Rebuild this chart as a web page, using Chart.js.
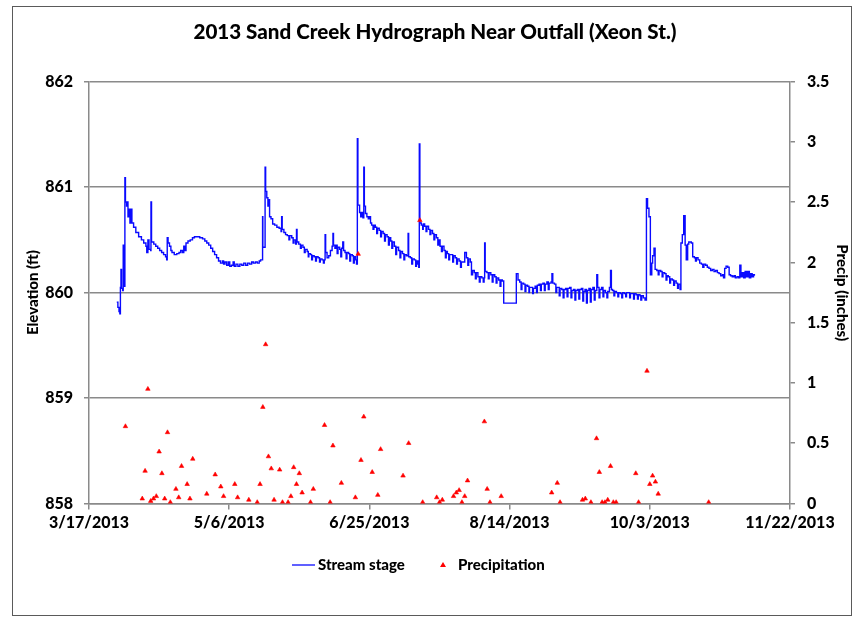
<!DOCTYPE html>
<html>
<head>
<meta charset="utf-8">
<title>2013 Sand Creek Hydrograph Near Outfall (Xeon St.)</title>
<script src="https://cdn.jsdelivr.net/npm/chart.js@4.4.1/dist/chart.umd.min.js"></script>
<style>
  html, body { margin: 0; padding: 0; background: #ffffff; }
  canvas { display: block; }
</style>
</head>
<body>
<canvas id="hydro" width="855" height="618" style="width:855px;height:618px"></canvas>
<script>
// Day 0 of the date axis is 3/17/2013; x values are days after that date.
const startDate = Date.UTC(2013, 2, 17);

// Axis tick values
const dateTicks = [0, 50, 100, 150, 200, 250];
const elevationTicks = [858, 859, 860, 861, 862];
const precipTicks = [0, 0.5, 1, 1.5, 2, 2.5, 3, 3.5];

// Stream stage: [day, elevation ft]; each reading holds until the next one
const stageReadings = [
  [9.9,859.91],[10.3,859.86],[10.7,859.82],[11.0,859.80],[11.2,860.05],[11.4,860.22],[11.6,860.04],[12.0,860.02],
  [12.2,860.45],[12.4,860.15],[12.6,860.06],[12.8,861.09],[13.0,860.86],[13.4,860.82],[13.7,860.86],[13.9,860.72],
  [14.2,860.79],[14.6,860.66],[15.0,860.79],[15.3,860.66],[15.9,860.62],[16.7,860.57],[17.7,860.53],[18.7,860.50],
  [19.5,860.47],[20.3,860.44],[20.6,860.38],[21.0,860.50],[21.4,860.41],[22.0,860.40],[22.1,860.86],[22.3,860.48],
  [23.1,860.46],[23.8,860.44],[24.5,860.42],[25.2,860.40],[25.9,860.38],[26.6,860.36],[27.3,860.34],[27.7,860.31],
  [27.9,860.52],[28.2,860.47],[28.7,860.44],[29.2,860.40],[29.6,860.38],[30.4,860.36],[31.3,860.37],[32.1,860.38],
  [32.7,860.40],[33.3,860.38],[33.8,860.44],[34.2,860.40],[34.6,860.47],[35.3,860.49],[36.1,860.50],[36.9,860.52],
  [37.6,860.53],[39.5,860.52],[40.5,860.51],[41.3,860.49],[42.0,860.47],[42.7,860.45],[43.4,860.42],[44.1,860.39],
  [44.8,860.36],[45.5,860.33],[46.2,860.30],[46.9,860.28],[47.6,860.30],[48.0,860.27],[48.5,860.29],[49.1,860.26],
  [49.7,860.29],[50.2,860.25],[50.8,860.26],[51.4,860.29],[51.8,860.25],[52.4,860.27],[53.1,860.25],[53.8,860.27],
  [54.5,860.26],[55.2,860.28],[55.9,860.26],[56.6,860.28],[57.3,860.27],[58.0,860.29],[58.6,860.28],[59.3,860.29],
  [60.0,860.28],[60.7,860.30],[61.2,860.31],[61.9,860.72],[62.0,860.43],[62.8,861.19],[63.0,860.96],[63.4,860.90],
  [63.8,860.82],[64.0,860.88],[64.4,860.72],[64.9,860.70],[65.5,860.65],[66.2,860.64],[67.0,860.62],[67.8,860.61],
  [68.5,860.58],[68.7,860.72],[68.9,860.60],[69.5,860.57],[70.1,860.55],[70.7,860.54],[71.3,860.50],[71.6,860.54],
  [72.3,860.52],[72.8,860.47],[73.1,860.50],[73.7,860.46],[74.0,860.60],[74.2,860.48],[74.8,860.46],[75.4,860.42],
  [75.7,860.45],[76.3,860.43],[76.8,860.38],[77.1,860.41],[77.8,860.39],[78.2,860.34],[78.4,860.37],[79.0,860.36],
  [79.4,860.31],[79.7,860.35],[80.3,860.34],[80.8,860.30],[81.1,860.34],[81.7,860.33],[82.2,860.29],[82.5,860.32],
  [83.1,860.31],[83.6,860.28],[83.9,860.31],[84.2,860.55],[84.4,860.38],[84.9,860.33],[85.5,860.35],[86.1,860.40],
  [86.7,860.44],[87.0,860.56],[87.2,860.45],[87.7,860.42],[88.2,860.45],[88.5,860.37],[88.8,860.43],[89.4,860.41],
  [89.8,860.34],[90.1,860.42],[90.5,860.48],[90.8,860.40],[91.3,860.38],[91.7,860.32],[92.0,860.38],[92.6,860.37],
  [93.0,860.30],[93.3,860.36],[93.9,860.35],[94.3,860.28],[94.6,860.34],[95.1,860.31],[95.4,860.27],[95.7,861.46],
  [95.9,860.83],[96.5,860.76],[96.9,860.72],[97.4,860.76],[97.7,860.71],[98.0,861.19],[98.2,860.82],[98.6,860.75],
  [99.1,860.72],[99.6,860.70],[100.0,860.72],[100.4,860.66],[100.8,860.64],[101.3,860.60],[101.6,860.64],[102.1,860.62],
  [102.6,860.56],[102.9,860.61],[103.5,860.59],[104.0,860.53],[104.3,860.58],[104.9,860.56],[105.4,860.49],[105.7,860.55],
  [106.3,860.53],[106.8,860.45],[107.1,860.52],[107.6,860.49],[108.0,860.42],[108.3,860.48],[108.9,860.44],[109.4,860.36],
  [109.7,860.43],[110.4,860.40],[110.9,860.33],[111.2,860.39],[111.8,860.37],[112.3,860.31],[112.6,860.36],[113.2,860.35],
  [113.8,860.56],[114.0,860.34],[114.6,860.33],[115.1,860.27],[115.4,860.32],[116.0,860.31],[116.5,860.25],[116.8,860.30],
  [117.3,860.27],[117.6,860.24],[117.8,861.41],[118.0,860.66],[118.5,860.64],[119.0,860.60],[119.2,860.65],[119.7,860.63],
  [120.2,860.58],[120.5,860.63],[121.1,860.60],[121.6,860.55],[121.9,860.59],[122.5,860.56],[123.0,860.50],[123.3,860.55],
  [123.9,860.52],[124.4,860.45],[124.7,860.50],[125.2,860.44],[125.7,860.39],[126.0,860.44],[126.6,860.40],[127.1,860.33],
  [127.4,860.39],[127.8,860.37],[128.3,860.31],[128.6,860.36],[129.2,860.36],[129.7,860.29],[130.0,860.35],[130.6,860.33],
  [131.1,860.27],[131.4,860.32],[132.0,860.30],[132.5,860.24],[132.8,860.29],[133.4,860.29],[134.0,860.38],[134.6,860.33],
  [135.1,860.26],[135.4,860.32],[136.0,860.29],[136.4,860.17],[136.8,860.21],[137.4,860.19],[137.8,860.13],[138.1,860.19],
  [138.7,860.15],[139.2,860.10],[139.5,860.15],[140.1,860.14],[140.6,860.10],[140.9,860.14],[141.1,860.47],[141.3,860.20],
  [141.9,860.19],[142.4,860.13],[142.7,860.19],[143.3,860.17],[143.8,860.10],[144.1,860.17],[144.7,860.15],[145.2,860.09],
  [145.5,860.14],[146.1,860.12],[146.6,860.06],[146.9,860.12],[147.4,860.11],[147.9,859.90],[152.4,860.18],[153.0,860.12],
  [153.6,860.10],[154.1,860.03],[154.4,860.09],[155.0,860.08],[155.5,860.01],[155.8,860.07],[156.4,860.06],[156.9,860.00],
  [157.1,860.05],[157.7,860.05],[158.2,859.99],[158.5,860.04],[159.1,860.06],[159.6,860.00],[159.9,860.07],[160.5,860.08],
  [161.0,860.02],[161.3,860.08],[161.9,860.09],[162.4,860.02],[162.7,860.08],[163.3,860.10],[163.8,860.03],[164.1,860.09],
  [164.8,860.10],[165.1,860.18],[165.4,860.09],[166.0,860.08],[166.5,860.00],[166.8,860.05],[167.2,860.05],[167.7,859.97],
  [168.0,860.04],[168.6,860.03],[169.1,859.95],[169.4,860.03],[170.0,860.04],[170.5,859.96],[170.8,860.04],[171.4,860.05],
  [171.9,859.95],[172.2,860.02],[172.8,860.03],[173.3,859.93],[173.6,860.02],[174.2,860.03],[174.7,859.94],[175.0,860.03],
  [175.6,860.04],[176.1,859.92],[176.4,860.01],[176.9,860.03],[177.4,859.90],[177.7,860.02],[178.3,860.04],[178.8,859.91],
  [179.1,860.03],[179.7,860.05],[180.2,859.93],[180.5,860.02],[181.1,860.17],[181.4,860.05],[181.9,859.95],[182.2,860.03],
  [182.8,860.05],[183.3,859.96],[183.6,860.02],[184.2,860.00],[184.7,859.95],[185.0,860.01],[185.6,860.05],[186.0,860.21],
  [186.3,860.03],[186.7,860.02],[187.2,859.97],[187.5,860.01],[188.1,860.00],[188.6,859.96],[188.9,860.00],[189.5,859.99],
  [190.0,859.95],[190.3,860.00],[190.9,859.99],[191.4,859.96],[191.7,860.00],[192.3,860.00],[192.8,859.95],[193.1,859.99],
  [193.7,859.99],[194.2,859.94],[194.5,859.99],[195.1,859.98],[195.6,859.94],[195.9,859.98],[196.5,859.97],[196.8,859.93],
  [197.1,859.97],[197.7,859.95],[198.3,859.93],[198.8,860.89],[199.2,860.80],[199.7,860.72],[200.2,860.17],[200.7,860.28],
  [201.0,860.35],[201.5,860.42],[201.9,860.22],[202.5,860.21],[203.0,860.17],[203.3,860.21],[203.9,860.20],[204.4,860.15],
  [204.7,860.19],[205.3,860.18],[205.8,860.12],[206.1,860.16],[206.6,860.15],[207.1,860.09],[207.4,860.13],[208.0,860.12],
  [208.5,860.07],[208.8,860.11],[209.4,860.09],[209.9,860.04],[210.2,860.08],[210.8,860.03],[211.1,860.47],[211.6,860.55],
  [212.1,860.73],[212.6,860.45],[213.0,860.31],[213.5,860.46],[213.9,860.48],[214.8,860.47],[215.3,860.34],[215.9,860.33],
  [216.3,860.30],[216.6,860.33],[217.2,860.31],[217.8,860.28],[218.4,860.27],[218.9,860.24],[219.3,860.27],[219.9,860.26],
  [220.5,860.24],[221.1,860.23],[221.7,860.21],[222.3,860.22],[222.9,860.20],[223.5,860.21],[224.1,860.19],[224.7,860.18],
  [225.3,860.16],[225.9,860.17],[226.3,860.14],[226.7,860.23],[227.2,860.25],[227.8,860.24],[228.3,860.17],[228.8,860.16],
  [229.4,860.15],[230.0,860.16],[230.5,860.14],[231.1,860.15],[231.7,860.14],[232.1,860.26],[232.5,860.15],[233.0,860.19],
  [233.5,860.14],[234.0,860.20],[234.5,860.15],[235.0,860.20],[235.5,860.14],[236.0,860.18],[236.5,860.15],[237.0,860.17],
  [237.3,860.16]
];

// Daily precipitation: [day, inches]
const rainReadings = [
  [13,0.64],[19,0.04],[20,0.27],[21,0.95],[22,0.02],[23,0.04],[24,0.06],[25,0.43],[26,0.25],[27,0.04],
  [28,0.59],[29,0.01],[31,0.12],[32,0.05],[33,0.31],[35,0.16],[36,0.04],[37,0.37],[42,0.08],[45,0.24],
  [47,0.14],[48,0.06],[52,0.16],[53,0.05],[57,0.03],[60,0.01],[61,0.16],[62,0.80],[63,1.32],[64,0.39],
  [65,0.29],[66,0.03],[68,0.28],[69,0.01],[71,0.01],[72,0.06],[73,0.30],[74,0.16],[75,0.25],[76,0.09],
  [79,0.01],[80,0.12],[84,0.65],[86,0.01],[87,0.48],[90,0.17],[95,0.05],[96,2.07],[97,0.36],[98,0.72],
  [101,0.26],[103,0.07],[104,0.45],[112,0.23],[114,0.50],[118,2.35],[119,0.01],[124,0.05],[125,0.01],[126,0.03],
  [130,0.06],[131,0.09],[132,0.11],[133,0.01],[134,0.06],[135,0.19],[141,0.68],[142,0.12],[143,0.01],[147,0.06],
  [165,0.09],[167,0.17],[168,0.01],[176,0.03],[177,0.04],[179,0.01],[181,0.54],[182,0.26],[183,0.01],[184,0.01],
  [185,0.03],[186,0.31],[187,0.01],[188,0.01],[195,0.25],[196,0.01],[199,1.10],[200,0.16],[201,0.23],[202,0.18],
  [203,0.08],[221,0.01]
];

const FONT = 'Lato, "Liberation Sans", Arial, sans-serif';
const AXIS_GRAY = '#8a8a8a';
const HEAVY = 900;

function dayToLabel(day) {
  const d = new Date(startDate + day * 86400000);
  return (d.getUTCMonth() + 1) + '/' + d.getUTCDate() + '/' + d.getUTCFullYear();
}

// White page with a thin frame around the whole chart
const framePlugin = {
  id: 'frame',
  beforeDraw(chart) {
    const ctx = chart.ctx;
    ctx.save();
    ctx.fillStyle = '#ffffff';
    ctx.fillRect(0, 0, chart.width, chart.height);
    ctx.restore();
  },
  afterDraw(chart) {
    const ctx = chart.ctx;
    ctx.save();
    ctx.strokeStyle = '#5a5a5a';
    ctx.lineWidth = 1;
    ctx.strokeRect(12.5, 6.5, 839, 609);
    ctx.restore();
  }
};

// Legend row under the axis: line sample for the stage, triangle for rain
const legendPlugin = {
  id: 'legendRow',
  afterDraw(chart) {
    const ctx = chart.ctx;
    const [stage, rain] = chart.data.datasets;
    const y = 565;
    ctx.save();
    ctx.font = HEAVY + ' 15px ' + FONT;
    ctx.textBaseline = 'middle';
    ctx.textAlign = 'left';
    ctx.strokeStyle = stage.borderColor;
    ctx.lineWidth = 1.3;
    ctx.beginPath();
    ctx.moveTo(292, y);
    ctx.lineTo(315, y);
    ctx.stroke();
    ctx.fillStyle = '#000000';
    ctx.fillText(stage.label, 318, y);
    ctx.fillStyle = rain.backgroundColor;
    ctx.beginPath();
    ctx.moveTo(443, y - 3);
    ctx.lineTo(446, y + 2);
    ctx.lineTo(440, y + 2);
    ctx.closePath();
    ctx.fill();
    ctx.fillStyle = '#000000';
    ctx.fillText(rain.label, 458, y);
    ctx.restore();
  }
};

Chart.defaults.font.family = FONT;
Chart.defaults.color = '#000000';

new Chart(document.getElementById('hydro'), {
  data: {
    datasets: [
      {
        type: 'line',
        label: 'Stream stage',
        data: stageReadings.map(([x, y]) => ({ x, y })),
        yAxisID: 'yElev',
        borderColor: '#0a0aff',
        borderWidth: 1.4,
        pointRadius: 0,
        stepped: true,
        fill: false,
        order: 1
      },
      {
        type: 'scatter',
        label: 'Precipitation',
        data: rainReadings.map(([x, y]) => ({ x, y })),
        yAxisID: 'yPrecip',
        pointStyle: 'triangle',
        pointRadius: 2.6,
        borderWidth: 0.6,
        backgroundColor: '#ff0000',
        borderColor: '#ff0000',
        order: 0
      }
    ]
  },
  options: {
    responsive: false,
    animation: false,
    devicePixelRatio: 1,
    layout: { padding: { left: 15, right: 0, top: 0, bottom: 0 } },
    plugins: {
      legend: { display: false },
      tooltip: { enabled: false },
      title: {
        display: true,
        text: '2013 Sand Creek Hydrograph Near Outfall (Xeon St.)',
        font: { size: 20.6, weight: HEAVY, family: FONT },
        color: '#000000',
        padding: { top: 20, bottom: 37 }
      }
    },
    scales: {
      x: {
        type: 'linear',
        min: 0,
        max: 250,
        afterBuildTicks: s => { s.ticks = dateTicks.map(v => ({ value: v })); },
        afterFit: s => { s.height = 114.5; },
        ticks: {
          autoSkip: false,
          maxRotation: 0,
          padding: 4,
          font: { size: 16, weight: HEAVY },
          callback: v => dayToLabel(v)
        },
        grid: { drawOnChartArea: false, drawTicks: true, tickLength: 6, color: AXIS_GRAY, lineWidth: 1.5 },
        border: { display: true, color: AXIS_GRAY, width: 1.5 }
      },
      yElev: {
        type: 'linear',
        position: 'left',
        min: 858,
        max: 862,
        afterBuildTicks: s => { s.ticks = elevationTicks.map(v => ({ value: v })); },
        afterFit: s => { s.width = 74; },
        ticks: { padding: 11, font: { size: 16, weight: HEAVY }, callback: v => String(v) },
        grid: { drawOnChartArea: true, drawTicks: true, tickLength: 5, color: AXIS_GRAY, lineWidth: 1.5 },
        border: { display: true, color: AXIS_GRAY, width: 1.5 },
        title: {
          display: true,
          text: 'Elevation (ft)',
          font: { size: 15, weight: HEAVY },
          padding: { top: 9, bottom: 0 }
        }
      },
      yPrecip: {
        type: 'linear',
        position: 'right',
        min: 0,
        max: 3.5,
        afterBuildTicks: s => { s.ticks = precipTicks.map(v => ({ value: v })); },
        afterFit: s => { s.width = 65; },
        ticks: { padding: 12, font: { size: 16, weight: HEAVY }, callback: v => String(+v.toFixed(1)) },
        grid: { drawOnChartArea: false, drawTicks: true, tickLength: 5, color: AXIS_GRAY, lineWidth: 1.5 },
        border: { display: true, color: AXIS_GRAY, width: 1.5 },
        title: {
          display: true,
          text: 'Precip (inches)',
          font: { size: 15, weight: HEAVY },
          padding: { top: 4, bottom: 0 }
        }
      }
    }
  },
  plugins: [framePlugin, legendPlugin]
});
</script>
</body>
</html>
